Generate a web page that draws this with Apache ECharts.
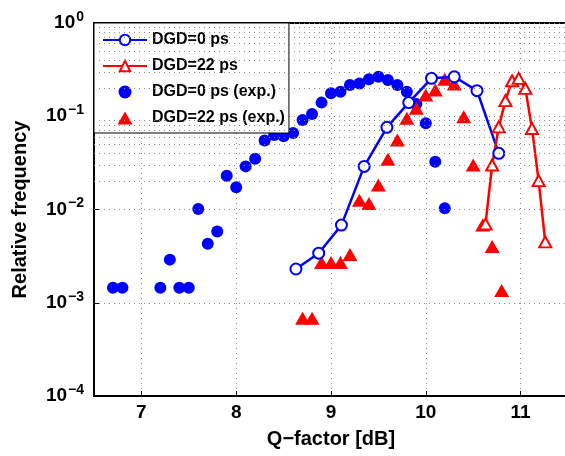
<!DOCTYPE html>
<html><head><meta charset="utf-8">
<script src="https://cdn.jsdelivr.net/npm/echarts@6/dist/echarts.min.js"></script>
<style>html,body{margin:0;padding:0;background:#fff}#c{width:565px;height:456px}</style>
</head><body><div id="c"></div>
<script>
// Tick labels
const xTicks = [7, 8, 9, 10, 11];
const yTickExps = [-4, -3, -2, -1, 0];

// Simulation, DGD = 0 ps (line + open circles)
const simDgd0Q = [8.63, 8.87, 9.11, 9.35, 9.59, 9.82, 10.06, 10.30, 10.54, 10.77];
const simDgd0F = [0.0023, 0.0034, 0.0068, 0.029, 0.076, 0.14, 0.255, 0.265, 0.188, 0.040];

// Simulation, DGD = 22 ps (line + open triangles)
const simDgd22Q = [10.63, 10.70, 10.77, 10.84, 10.91, 10.98, 11.05, 11.12, 11.19, 11.26];
const simDgd22F = [0.0070, 0.030, 0.077, 0.147, 0.24, 0.255, 0.199, 0.074, 0.0204, 0.0045];

// Experiment, DGD = 0 ps (filled circles)
const expDgd0Q = [6.7, 6.8, 7.2, 7.3, 7.4, 7.5, 7.6, 7.7, 7.8, 7.9, 8.0, 8.1, 8.2, 8.3, 8.4, 8.5, 8.6,
                  8.7, 8.8, 8.9, 9.0, 9.1, 9.2, 9.3, 9.4, 9.5, 9.6, 9.7, 9.8, 9.9, 10.0, 10.1, 10.2];
const expDgd0F = [0.00145, 0.00145, 0.00145, 0.0029, 0.00145, 0.00145, 0.0101, 0.0043, 0.0058, 0.023,
                  0.0173, 0.029, 0.035, 0.055, 0.063, 0.061, 0.066, 0.091, 0.106, 0.14, 0.176, 0.183,
                  0.216, 0.225, 0.249, 0.265, 0.245, 0.216, 0.183, 0.135, 0.084, 0.0326, 0.0103];

// Experiment, DGD = 22 ps (filled triangles)
const expDgd22Q = [8.7, 8.8, 8.9, 9.0, 9.1, 9.2, 9.3, 9.4, 9.5, 9.6, 9.7, 9.8, 9.9, 10.0, 10.1,
                   10.2, 10.3, 10.4, 10.5, 10.6, 10.7, 10.8];
const expDgd22F = [0.00068, 0.00068, 0.0027, 0.0027, 0.0027, 0.0033, 0.0126, 0.0116, 0.0183, 0.0345,
                   0.0556, 0.095, 0.122, 0.169, 0.191, 0.249, 0.222, 0.099, 0.030, 0.0068, 0.0040, 0.00135];

const FONT = "'Liberation Sans', Arial, Helvetica, sans-serif";
const BLUE = '#0000ff', RED = '#ff0000';
const pairs = (xs, ys) => xs.map((x, i) => [x, ys[i]]);

// minor log grid lines (2..9 x 10^d)
const minorVals = [];
for (let d = yTickExps[0]; d < yTickExps[yTickExps.length - 1]; d++) {
  for (let k = 2; k <= 9; k++) minorVals.push(k * Math.pow(10, d));
}
const dotted = { color: '#8a8a8a', width: 1, type: [1, 4] };
const legendTriangle = 'path://M0,13 L7.5,0 L15,13 Z';

const chart = echarts.init(document.getElementById('c'), null, { renderer: 'canvas' });
chart.setOption({
  animation: false,
  backgroundColor: '#fff',
  textStyle: { fontFamily: FONT },
  grid: { left: 94, top: 23, width: 474, height: 373, show: true, borderColor: '#000', borderWidth: 2,
          backgroundColor: 'transparent', outerBoundsMode: 'none', containLabel: false },
  legend: {
    data: [
      { name: 'DGD=0 ps' },
      { name: 'DGD=22 ps' },
      { name: 'DGD=0 ps (exp.)' },
      { name: 'DGD=22 ps (exp.)', icon: legendTriangle }
    ],
    orient: 'vertical', left: 94, top: 23,
    itemWidth: 44, itemHeight: 13, itemGap: 8,
    padding: [8, 4, 6, 8], symbolKeepAspect: true,
    backgroundColor: '#fff', borderColor: '#000', borderWidth: 1,
    textStyle: { fontFamily: FONT, fontWeight: 'bold', fontSize: 16, color: '#000', lineHeight: 18 }
  },
  xAxis: {
    type: 'value', min: 6.5, max: 11.5, interval: 0.5,
    name: 'Q\u2212factor [dB]', nameLocation: 'middle', nameGap: 33,
    nameTextStyle: { fontFamily: FONT, fontWeight: 'bold', fontSize: 20, color: '#000' },
    axisLine: { show: true, onZero: false, lineStyle: { color: '#000', width: 2 } },
    axisTick: { show: true, inside: true, length: 5, lineStyle: { color: '#000', width: 1 },
      customValues: xTicks },
    axisLabel: { margin: 7, fontFamily: FONT, fontWeight: 'bold', fontSize: 19, color: '#000',
      customValues: xTicks, formatter: v => String(v) },
    splitLine: { show: true, lineStyle: dotted }
  },
  yAxis: {
    type: 'log', logBase: 10, min: 1e-4, max: 1,
    name: 'Relative frequency', nameLocation: 'middle', nameGap: 64, nameRotate: 90,
    nameTextStyle: { fontFamily: FONT, fontWeight: 'bold', fontSize: 20, color: '#000' },
    axisLine: { show: true, lineStyle: { color: '#000', width: 2 } },
    axisTick: { show: true, inside: true, length: 5, lineStyle: { color: '#000', width: 1 } },
    axisLabel: {
      margin: 10, color: '#000',
      formatter: v => {
        const e = Math.round(Math.log10(v));
        return '{b|10}{s|' + (e < 0 ? '\u2212' + (-e) : e) + '}';
      },
      rich: {
        b: { fontFamily: FONT, fontWeight: 'bold', fontSize: 19, color: '#000' },
        s: { fontFamily: FONT, fontWeight: 'bold', fontSize: 14, color: '#000', padding: [0, 0, 12, 1] }
      }
    },
    splitLine: { show: true, lineStyle: dotted }
  },
  series: [
    {
      name: 'minor-grid', type: 'line', data: [], silent: true, z: 0,
      markLine: { silent: true, symbol: 'none', label: { show: false }, animation: false,
        lineStyle: dotted, data: minorVals.map(v => ({ yAxis: v })) }
    },
    {
      name: 'DGD=0 ps (exp.)', type: 'scatter', data: pairs(expDgd0Q, expDgd0F),
      symbol: 'circle', symbolSize: 12, itemStyle: { color: BLUE, opacity: 1 }, z: 3
    },
    {
      name: 'DGD=22 ps (exp.)', type: 'scatter', data: pairs(expDgd22Q, expDgd22F),
      symbol: 'triangle', symbolSize: [15, 13], itemStyle: { color: RED, opacity: 1 }, z: 3
    },
    {
      name: 'DGD=0 ps', type: 'line', data: pairs(simDgd0Q, simDgd0F),
      symbol: 'emptyCircle', symbolSize: 11, lineStyle: { color: BLUE, width: 2.5 },
      itemStyle: { color: BLUE, borderColor: BLUE, borderWidth: 2.2, opacity: 1 }, z: 4
    },
    {
      name: 'DGD=22 ps', type: 'line', data: pairs(simDgd22Q, simDgd22F),
      symbol: 'emptyTriangle', symbolSize: [12, 11], lineStyle: { color: RED, width: 2.5 },
      itemStyle: { color: RED, borderColor: RED, borderWidth: 2.2, opacity: 1 }, z: 4
    }
  ]
});
</script></body></html>
